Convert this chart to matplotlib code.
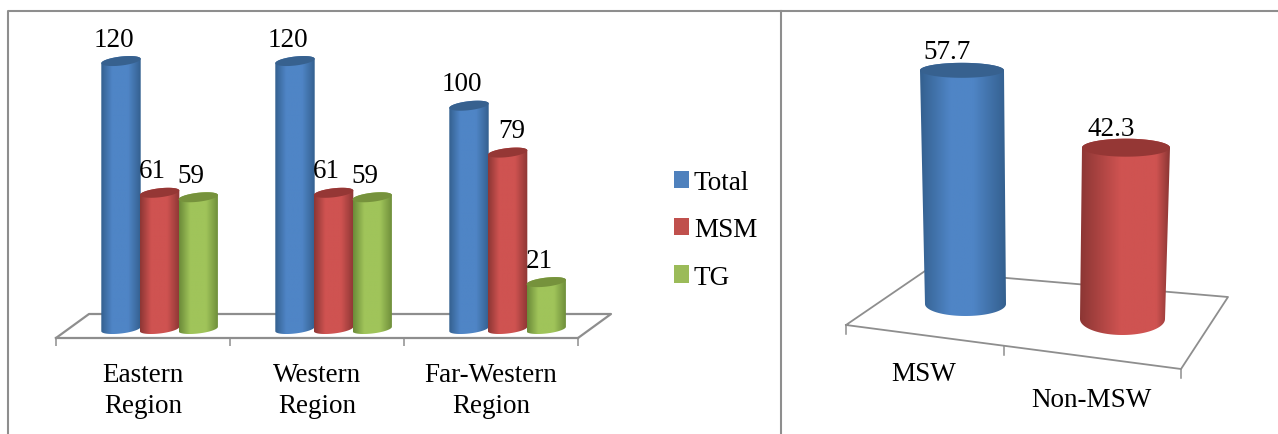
import numpy as np
import matplotlib
matplotlib.use("Agg")
import matplotlib.pyplot as plt
from matplotlib.colors import LinearSegmentedColormap
from matplotlib.patches import PathPatch, Patch
from matplotlib.path import Path

# ---- data ----
regions = ["Eastern\nRegion", "Western\nRegion", "Far-Western\nRegion"]
series_names = ["Total", "MSM", "TG"]
total = [120, 120, 100]
msm = [61, 61, 79]
tg = [59, 59, 21]
sex_labels = ["MSW", "Non-MSW"]
sex_values = [57.7, 42.3]

# ---- styles ----
W, H = 1278, 435
FONT = "Liberation Serif"
FS = 19.5
GRAY = "#8e8e8e"
PAL = {
    "blue": ("#34608f", "#4f85c6", "#37618f"),
    "red": ("#8c3634", "#cf5351", "#953735"),
    "green": ("#6b8a38", "#a0c45a", "#76923c"),
}
LEG = ["#4f81bd", "#c0504d", "#9bbb59"]
plt.rcParams["font.family"] = [FONT, "DejaVu Serif"]

fig = plt.figure(figsize=(W / 100, H / 100), dpi=100, facecolor="white")


def rect(x0, x1, ytop, ybot):
    return [x0 / W, 1 - ybot / H, (x1 - x0) / W, (ybot - ytop) / H]


def cylinder(ax, sx, sy, xc_top, xc_bot, a_top, a_bot, y0, y1,
             b_top, b_bot, tilt, color, z=3, lit=(0.28, 0.68)):
    """sx, sy: pixels per data unit. Shaded body with a darker top cap."""
    edge, bright, cap = PAL[color]
    t_low = np.linspace(np.pi, 2 * np.pi, 50)
    t_up = np.linspace(0, np.pi, 50)
    bx = xc_bot + a_bot / sx * np.cos(t_low)
    by = y0 + (b_bot * np.sin(t_low) + tilt * np.cos(t_low)) / sy
    tx = xc_top + a_top / sx * np.cos(t_up)
    ty = y1 + (b_top * np.sin(t_up) + tilt * np.cos(t_up)) / sy
    verts = np.column_stack([np.r_[bx, tx], np.r_[by, ty]])
    body = Path(np.vstack([verts, verts[0]]), closed=True)
    patch = PathPatch(body, fc="none", ec="none", transform=ax.transData)
    ax.add_patch(patch)
    cmap = LinearSegmentedColormap.from_list(
        "c", [(0, edge), (lit[0], bright), (lit[1], bright), (1, edge)])
    shade = np.linspace(0, 1, 128).reshape(1, -1)
    xs = verts[:, 0]
    im = ax.imshow(shade, cmap=cmap, aspect="auto", zorder=z, interpolation="bilinear",
                   extent=(xs.min(), xs.max(), by.min(), ty.max()))
    im.set_clip_path(patch)
    t = np.linspace(0, 2 * np.pi, 80)
    cx = xc_top + a_top / sx * np.cos(t)
    cy = y1 + (b_top * np.sin(t) + tilt * np.cos(t)) / sy
    ax.fill(cx, cy, color=cap, lw=0, zorder=z + 0.1)


# ---- frame ----
frame = fig.add_axes([0, 0, 1, 1], zorder=0)
frame.set_xlim(0, W)
frame.set_ylim(H, 0)
frame.axis("off")
frame.plot([8, 8, W], [H, 12, 12], color=GRAY, lw=1.5)
frame.plot([781, 781], [12, H], color=GRAY, lw=1.5)

# ---- left chart ----
ax = fig.add_axes(rect(56, 578, 12, 339), zorder=2)
ax.patch.set_alpha(0)
sxL = 174.0
syL = 2.233
base_px = 9.0
series = [(total, "blue"), (msm, "red"), (tg, "green")]
for s, (vals, col) in enumerate(series):
    for g, v in enumerate(vals):
        xc = g + (65 + s * 38.6) / sxL
        cylinder(ax, sxL, syL, xc, xc, 19.7, 19.7, 0, v, 4.5, 4.5, 2.2, col, z=3 + s)
        dx = 4 if (col == "red" and v == 79) else -7
        ax.text(xc + dx / sxL, v + 22 / syL, str(v), ha="center", va="center",
                fontsize=FS, color="black", zorder=10)
ax.set_xlim(0, 3)
ax.set_ylim(-base_px / syL, (339 - 12 - base_px) / syL)
for sp in ["top", "left", "right"]:
    ax.spines[sp].set_visible(False)
ax.spines["bottom"].set_color(GRAY)
ax.spines["bottom"].set_linewidth(1.6)
ax.set_yticks([])
ax.set_xticks([0, 1, 2, 3], minor=True)
ax.set_xticks([0.5, 1.5, 2.5])
ax.set_xticklabels(regions, fontsize=FS, linespacing=1.32)
ax.tick_params(axis="x", which="minor", length=6, width=1.1, color=GRAY)
ax.tick_params(axis="x", which="major", length=0, pad=17)
ybase = -base_px / syL
yback = ybase + 24 / syL
ax.plot([0, 33 / sxL, 3 + 33 / sxL, 3], [ybase, yback, yback, ybase],
        color=GRAY, lw=1.6, clip_on=False, zorder=1)

# ---- legend ----
handles = [Patch(fc=c, ec="none") for c in LEG]
leg = fig.legend(handles, series_names, loc="upper left",
                 bbox_to_anchor=(666 / W, 1 - 163 / H), frameon=False, fontsize=FS,
                 handlelength=0.55, handleheight=0.6, handletextpad=0.18,
                 labelspacing=0.82, borderpad=0.3, borderaxespad=0)

# ---- right chart ----
ar = fig.add_axes(rect(846, 1181, 12, 435), zorder=2)
ar.patch.set_alpha(0)
sxR = (1181 - 846) / 2.0
syR = 4.05
zero_px = 305.0


def yR(px):
    return (zero_px - px) / syR


def xR(px):
    return (px - 846) / sxR


floor_x = [846, 1181, 1228, 925, 846]
floor_y = [326, 370, 298, 272, 326]
ar.plot(xR(np.array(floor_x)), yR(np.array(floor_y)), color=GRAY, lw=1.3,
        clip_on=False, zorder=1)
for tx, ty in [(846, 326), (1004, 347), (1181, 370)]:
    ar.plot([xR(tx), xR(tx)], [yR(ty), yR(ty + 9)], color=GRAY, lw=1.1,
            clip_on=False, zorder=1)

cylinder(ar, sxR, syR, xR(962), xR(965.5), 42, 40.5, yR(305), yR(305) + sex_values[0],
         7.5, 12, 0, "blue", lit=(0.35, 0.62))
cylinder(ar, sxR, syR, xR(1126), xR(1122.5), 44, 42.5, yR(320), yR(320) + sex_values[1],
         9, 16, 0, "red", lit=(0.45, 0.85))
ar.text(xR(947), yR(305) + sex_values[0] + 19 / syR, f"{sex_values[0]}", ha="center",
        va="center", fontsize=FS, zorder=10)
ar.text(xR(1111), yR(320) + sex_values[1] + 19 / syR, f"{sex_values[1]}", ha="center",
        va="center", fontsize=FS, zorder=10)
ar.text(xR(924), yR(375), sex_labels[0], ha="center", va="center", fontsize=FS)
ar.text(xR(1091), yR(401), sex_labels[1], ha="center", va="center", fontsize=FS)
ar.set_xlim(0, 2)
ar.set_ylim(yR(435), yR(12))
ar.axis("off")

fig.savefig("out.png", dpi=100, facecolor="white")
